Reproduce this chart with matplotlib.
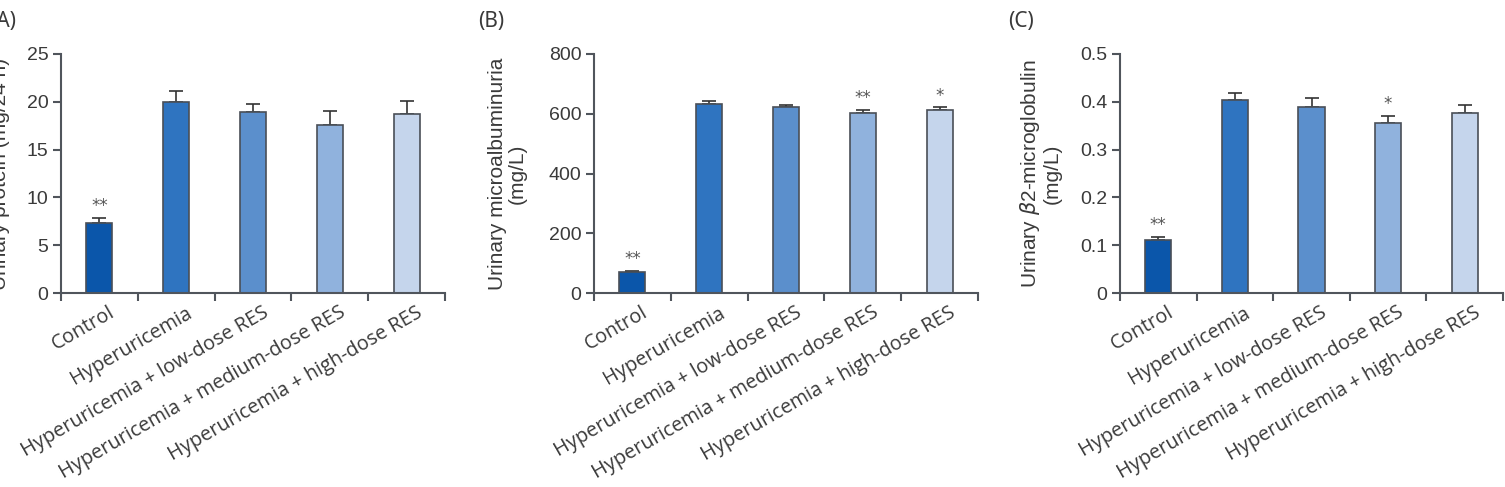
import matplotlib.pyplot as plt
import numpy as np

groups = ['Control', 'Hyperuricemia', 'Hyperuricemia + low-dose RES',
          'Hyperuricemia + medium-dose RES', 'Hyperuricemia + high-dose RES']
bar_colors = ['#0b56aa', '#2f74c0', '#5b8fcc', '#90b2dd', '#c5d5ec']

protein = [7.35, 19.95, 18.97, 17.57, 18.7]
protein_err = [0.5, 1.2, 0.8, 1.5, 1.35]
protein_sig = ['**', '', '', '', '']

albumin = [71, 634, 622, 601, 612]
albumin_err = [4, 10, 7, 12, 9]
albumin_sig = ['**', '', '', '**', '*']

b2mg = [0.111, 0.403, 0.389, 0.355, 0.377]
b2mg_err = [0.007, 0.015, 0.018, 0.015, 0.016]
b2mg_sig = ['**', '', '', '*', '']

panels = [
    ('(A)', protein, protein_err, protein_sig, 'Urinary protein (mg/24 h)',
     [0, 5, 10, 15, 20, 25], ['0', '5', '10', '15', '20', '25'], 25, -0.133),
    ('(B)', albumin, albumin_err, albumin_sig, 'Urinary microalbuminuria\n(mg/L)',
     [0, 200, 400, 600, 800], ['0', '200', '400', '600', '800'], 800, -0.174),
    ('(C)', b2mg, b2mg_err, b2mg_sig, 'Urinary $\\beta$2-microglobulin\n(mg/L)',
     [0, 0.1, 0.2, 0.3, 0.4, 0.5], ['0', '0.1', '0.2', '0.3', '0.4', '0.5'], 0.5, -0.151),
]

W, H = 1505, 487
fig = plt.figure(figsize=(W / 100, H / 100), dpi=100)
plt.rcParams['mathtext.fontset'] = 'dejavusans'

ax_left = [61, 594, 1120]
ax_right = [445, 978, 1503]
ax_top, ax_bot = 54, 293
label_x = [-10, 478, 1008]

spine_col = '#50555c'
text_col = '#3a3a3a'

for i, (tag, vals, errs, sig, ylab, yt, ytl, ymax, ylx) in enumerate(panels):
    ax = fig.add_axes([ax_left[i] / W, 1 - ax_bot / H,
                       (ax_right[i] - ax_left[i]) / W, (ax_bot - ax_top) / H])
    x = np.arange(len(vals)) + 0.5
    ax.bar(x, vals, width=0.34, color=bar_colors, edgecolor='#4a4f57', linewidth=1.2, zorder=2)
    ax.errorbar(x, vals, yerr=[np.zeros(len(errs)), errs], fmt='none',
                ecolor='#333333', elinewidth=1.2, capsize=5, capthick=1.2, zorder=1)
    for xi, v, e, s in zip(x, vals, errs, sig):
        if s:
            ax.text(xi, v + e + ymax * 0.012, s, ha='center', va='bottom',
                    fontsize=12, color='#555555', family='DejaVu Sans')
    ax.set_xlim(0, 5)
    ax.set_ylim(0, ymax)
    ax.set_yticks(yt)
    ax.set_yticklabels(ytl, fontsize=14, color=text_col, family='Liberation Sans')
    ax.set_xticks(x + 0.12)
    ax.set_xticklabels(groups, rotation=30, ha='right', rotation_mode='anchor',
                       fontsize=14.3, color=text_col, family='Open Sans')
    ax.set_xticks(np.arange(6), minor=True)
    ax.tick_params(axis='x', which='major', length=0, pad=7)
    ax.tick_params(axis='x', which='minor', length=6, width=1.5, color=spine_col)
    ax.tick_params(axis='y', length=6, width=1.5, color=spine_col, pad=3)
    for sp in ['top', 'right']:
        ax.spines[sp].set_visible(False)
    for sp in ['left', 'bottom']:
        ax.spines[sp].set_color(spine_col)
        ax.spines[sp].set_linewidth(1.5)
    ax.set_ylabel(ylab, fontsize=15, color=text_col, family='Liberation Sans', linespacing=1.1)
    ax.yaxis.set_label_coords(ylx, 0.5)
    fig.text(label_x[i] / W, 1 - 21 / H, tag, fontsize=15, color=text_col,
             family='Noto Sans', ha='left', va='center')

fig.savefig('out.png', dpi=100)
